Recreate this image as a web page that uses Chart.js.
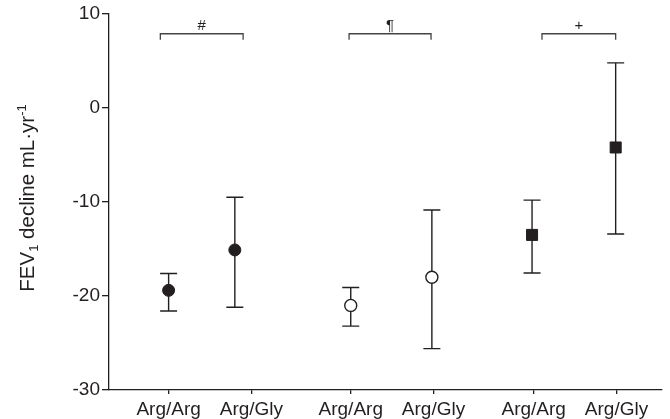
<!DOCTYPE html>
<html>
<head>
<meta charset="utf-8">
<script src="https://cdn.jsdelivr.net/npm/chart.js@4.4.0/dist/chart.umd.min.js"></script>
<style>
  html, body { margin: 0; padding: 0; background: #fff; }
</style>
</head>
<body>
<canvas id="chart" width="670" height="419"></canvas>
<script>
// Genotype groups along the x axis
const categories = ["Arg/Arg", "Arg/Gly", "Arg/Arg", "Arg/Gly", "Arg/Arg", "Arg/Gly"];
const tickPos = [0.72, 1.72, 2.92, 3.92, 5.13, 6.13];
const pointPos = [0.72, 1.52, 2.92, 3.9, 5.11, 6.12];

// FEV1 decline (mL/yr): mean and error bar ends
const means = [-19.4, -15.1, -21.0, -18.0, -13.5, -4.2];
const upper = [-17.6, -9.5, -19.1, -10.85, -9.8, 4.8];
const lower = [-21.6, -21.2, -23.2, -25.6, -17.55, -13.4];

// Significance brackets
const bracketFrom = [0.62, 2.9, 5.23];
const bracketTo = [1.62, 3.89, 6.12];
const bracketLabels = ["#", "\u00b6", "+"];
const bracketY = 7.9;

const ink = "#231f20";
const font = "'Liberation Sans', Arial, sans-serif";

const pts = (a, b) => [a, b].map(i => ({ x: pointPos[i], y: means[i] }));

// error bars under the markers
const errorBars = {
  id: "errorBars",
  beforeDatasetsDraw(chart) {
    const { ctx, scales: { x, y } } = chart;
    ctx.save();
    ctx.strokeStyle = ink;
    ctx.lineWidth = 1.4;
    for (let i = 0; i < means.length; i++) {
      const px = x.getPixelForValue(pointPos[i]);
      const top = y.getPixelForValue(upper[i]);
      const bot = y.getPixelForValue(lower[i]);
      ctx.beginPath();
      ctx.moveTo(px, top); ctx.lineTo(px, bot);
      ctx.moveTo(px - 8.5, top); ctx.lineTo(px + 8.5, top);
      ctx.moveTo(px - 8.5, bot); ctx.lineTo(px + 8.5, bot);
      ctx.stroke();
    }
    ctx.restore();
  }
};

// brackets and the rotated y title with sub/superscript
const extras = {
  id: "extras",
  afterDraw(chart) {
    const { ctx, scales: { x, y } } = chart;
    ctx.save();
    ctx.strokeStyle = "#444";
    ctx.lineWidth = 1.3;
    ctx.fillStyle = ink;
    const by = y.getPixelForValue(bracketY);
    for (let i = 0; i < bracketLabels.length; i++) {
      const x0 = x.getPixelForValue(bracketFrom[i]);
      const x1 = x.getPixelForValue(bracketTo[i]);
      ctx.beginPath();
      ctx.moveTo(x0, by + 6); ctx.lineTo(x0, by); ctx.lineTo(x1, by); ctx.lineTo(x1, by + 6);
      ctx.stroke();
      ctx.font = "15px " + font;
      ctx.textAlign = "center";
      ctx.textBaseline = "alphabetic";
      ctx.fillText(bracketLabels[i], (x0 + x1) / 2, by - 4);
    }

    // y axis title
    const parts = [
      { t: "FEV", size: 20.5, dy: 0 },
      { t: "1", size: 13, dy: 3.5 },
      { t: " decline mL\u00b7yr", size: 20.5, dy: 0 },
      { t: "-1", size: 13, dy: -8 }
    ];
    let total = 0;
    parts.forEach(p => { ctx.font = p.size + "px " + font; p.w = ctx.measureText(p.t).width; total += p.w; });
    ctx.translate(34, 198);
    ctx.rotate(-Math.PI / 2);
    ctx.textAlign = "left";
    let cx = -total / 2;
    parts.forEach(p => {
      ctx.font = p.size + "px " + font;
      ctx.fillText(p.t, cx, p.dy);
      cx += p.w;
    });
    ctx.restore();
  }
};

new Chart(document.getElementById("chart"), {
  type: "scatter",
  data: {
    datasets: [
      { data: pts(0, 1), pointStyle: "circle", pointRadius: 6, backgroundColor: ink, borderColor: ink, borderWidth: 1 },
      { data: pts(2, 3), pointStyle: "circle", pointRadius: 6, backgroundColor: "#fff", borderColor: ink, borderWidth: 1.4 },
      { data: pts(4, 5), pointStyle: "rect", pointRadius: 7.8, backgroundColor: ink, borderColor: ink, borderWidth: 1 }
    ]
  },
  plugins: [errorBars, extras],
  options: {
    responsive: false,
    devicePixelRatio: 1,
    animation: false,
    layout: { padding: { top: 14, right: 5, left: 0, bottom: 0 } },
    plugins: { legend: { display: false }, tooltip: { enabled: false } },
    scales: {
      x: {
        type: "linear",
        min: 0,
        max: 6.67,
        afterBuildTicks: (scale) => { scale.ticks = tickPos.map(v => ({ value: v })); },
        afterFit: (scale) => { scale.height = 29; },
        border: { display: true, color: ink, width: 1.3 },
        grid: { drawOnChartArea: false, drawTicks: true, tickLength: 4, color: ink, lineWidth: 1.3 },
        ticks: {
          autoSkip: false,
          maxRotation: 0,
          padding: 4,
          color: ink,
          font: { family: font, size: 19 },
          callback: (v, i) => categories[i]
        }
      },
      y: {
        min: -30,
        max: 10,
        afterFit: (scale) => { scale.width = 109; },
        border: { display: true, color: ink, width: 1.3 },
        grid: { drawOnChartArea: false, drawTicks: true, tickLength: 7, color: ink, lineWidth: 1.3 },
        ticks: {
          stepSize: 10,
          padding: 2,
          color: ink,
          font: { family: font, size: 19 }
        }
      }
    }
  }
});
</script>
</body>
</html>
